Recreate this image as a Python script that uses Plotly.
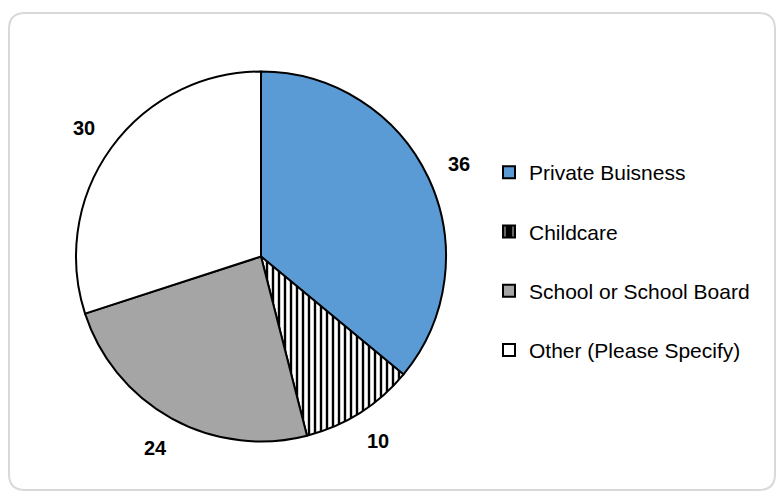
import math
import plotly.graph_objects as go

# Survey responses by organisation type
categories = ["Private Buisness", "Childcare", "School or School Board", "Other (Please Specify)"]
counts = [36, 10, 24, 30]
fill_colors = ["#5B9BD5", "#FFFFFF", "#A5A5A5", "#FFFFFF"]
patterns = ["", "|", "", ""]

W, H = 776, 493
FONT = "Liberation Sans, Arial, sans-serif"

fig = go.Figure()

# Pie: starts at 12 o'clock, runs clockwise
cx, cy, r = 261, 256.5, 185
fig.add_trace(go.Pie(
    labels=categories,
    values=counts,
    sort=False,
    direction="clockwise",
    rotation=0,
    marker=dict(colors=fill_colors, line=dict(color="#000000", width=2),
                pattern=dict(shape=patterns, fgcolor="#000000", bgcolor=fill_colors,
                             size=6, solidity=0.4, fillmode="replace")),
    textinfo="none",
    showlegend=False,
    hoverinfo="label+value",
    domain=dict(x=[(cx - r) / W, (cx + r) / W],
                y=[(H - cy - r) / H, (H - cy + r) / H]),
))

# Value labels placed outside each slice, along its middle angle
label_r = 1.18 * r
total = sum(counts)
annotations = []
start = 0.0
for v in counts:
    mid = (start + v / 2) / total * 2 * math.pi
    start += v
    lx = cx + label_r * math.sin(mid)
    ly = cy - label_r * math.cos(mid)
    annotations.append(dict(
        x=lx / W, y=1 - ly / H, xref="paper", yref="paper",
        text=f"<b>{v}</b>", showarrow=False, xanchor="center", yanchor="middle",
        font=dict(family=FONT, size=20, color="#000000"),
    ))

# Legend entries, one group each so the gap between rows can be set
legend_fg = ["#000000", "#FFFFFF", "#000000", "#000000"]
legend_bg = ["#5B9BD5", "#000000", "#A5A5A5", "#FFFFFF"]
for name, pat, fg, bg in zip(categories, patterns, legend_fg, legend_bg):
    fig.add_trace(go.Bar(
        x=[None], y=[None], name=name, legendgroup=name,
        marker=dict(color=bg, line=dict(color="#000000", width=2),
                    pattern=dict(shape=pat, fgcolor=fg, bgcolor=bg,
                                 size=12, solidity=0.2)),
        showlegend=True, hoverinfo="skip",
    ))

# Rounded chart frame
x0, y0, x1, y1, rad = 9, 13, 775, 490, 16
def px(x):
    return x / W
def py(y):
    return 1 - y / H
frame = (f"M{px(x0 + rad)},{py(y0)} L{px(x1 - rad)},{py(y0)} "
         f"Q{px(x1)},{py(y0)} {px(x1)},{py(y0 + rad)} "
         f"L{px(x1)},{py(y1 - rad)} Q{px(x1)},{py(y1)} {px(x1 - rad)},{py(y1)} "
         f"L{px(x0 + rad)},{py(y1)} Q{px(x0)},{py(y1)} {px(x0)},{py(y1 - rad)} "
         f"L{px(x0)},{py(y0 + rad)} Q{px(x0)},{py(y0)} {px(x0 + rad)},{py(y0)} Z")

fig.update_layout(
    width=W, height=H,
    margin=dict(l=0, r=0, t=0, b=0),
    paper_bgcolor="#FFFFFF",
    plot_bgcolor="#FFFFFF",
    font=dict(family=FONT, size=21, color="#000000"),
    xaxis=dict(visible=False),
    yaxis=dict(visible=False),
    annotations=annotations,
    legend=dict(
        x=489 / W, y=1 - 152 / H, xanchor="left", yanchor="top",
        font=dict(family=FONT, size=21, color="#000000"),
        tracegroupgap=29, itemclick=False, itemdoubleclick=False,
        bgcolor="rgba(0,0,0,0)",
    ),
    shapes=[dict(type="path", path=frame, xref="paper", yref="paper",
                 line=dict(color="#D9D9D9", width=2), layer="below")],
)

fig.write_html("out.html")
